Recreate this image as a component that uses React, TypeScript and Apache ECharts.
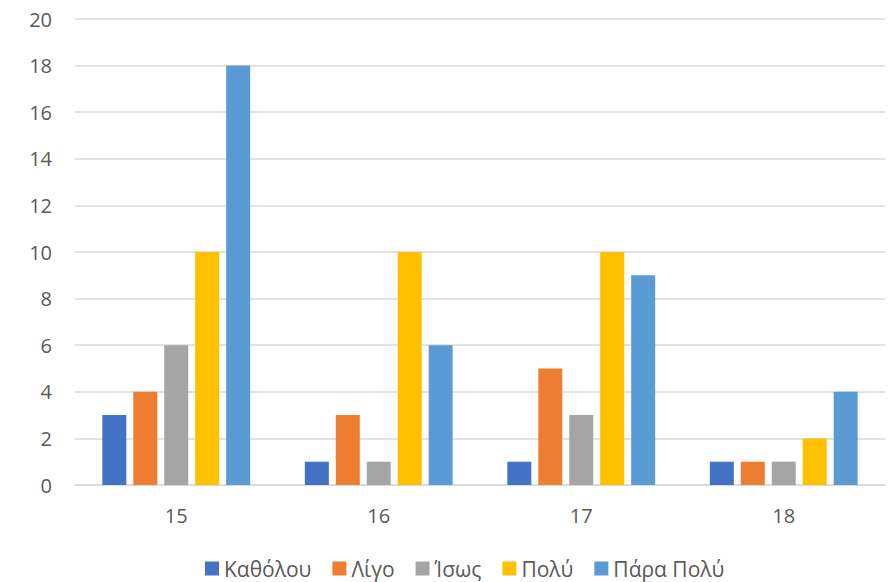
import React, { useEffect, useRef } from "react";
import * as echarts from "echarts";

const categories = ["15", "16", "17", "18"];
const seriesNames = ["Καθόλου", "Λίγο", "Ίσως", "Πολύ", "Πάρα Πολύ"];
const katholou = [3, 1, 1, 1];
const ligo = [4, 3, 5, 1];
const isos = [6, 1, 3, 1];
const poly = [10, 10, 10, 2];
const paraPoly = [18, 6, 9, 4];
const colors = ["#4472C4", "#ED7D31", "#A5A5A5", "#FFC000", "#5B9BD5"];

export default function App() {
  const ref = useRef<HTMLDivElement>(null);
  useEffect(() => {
    const chart = echarts.init(ref.current!, null, { renderer: "svg" });
    const data = [katholou, ligo, isos, poly, paraPoly];
    const font = "Open Sans";
    chart.setOption({
      animation: false,
      color: colors,
      textStyle: { fontFamily: font },
      grid: { left: 75, right: 10, top: 19, bottom: 97 },
      legend: {
        top: 558,
        left: 205,
        padding: 0,
        icon: "rect",
        itemWidth: 14,
        itemHeight: 14,
        itemGap: 21,
        textStyle: { color: "#595959", fontSize: 21, fontFamily: font, padding: [0, 0, 0, 0] },
        data: seriesNames,
      },
      xAxis: {
        type: "category",
        data: categories,
        axisLine: { lineStyle: { color: "#D9D9D9", width: 1.5 } },
        axisTick: { show: false },
        axisLabel: { color: "#595959", fontSize: 20, fontFamily: font, margin: 20 },
      },
      yAxis: {
        type: "value",
        min: 0,
        max: 20,
        interval: 2,
        axisLine: { show: false },
        axisTick: { show: false },
        splitLine: { lineStyle: { color: "#D9D9D9", width: 1.5 } },
        axisLabel: { color: "#595959", fontSize: 20, fontFamily: font, margin: 23 },
      },
      series: seriesNames.map((name, i) => ({
        name,
        type: "bar",
        data: data[i],
        barGap: "29%",
        barCategoryGap: "27%",
        itemStyle: { color: colors[i] },
      })),
    });
    return () => chart.dispose();
  }, []);
  return (
    <div
      ref={ref}
      style={{ position: "absolute", left: 0, top: 0, width: 895, height: 582 }}
    />
  );
}
